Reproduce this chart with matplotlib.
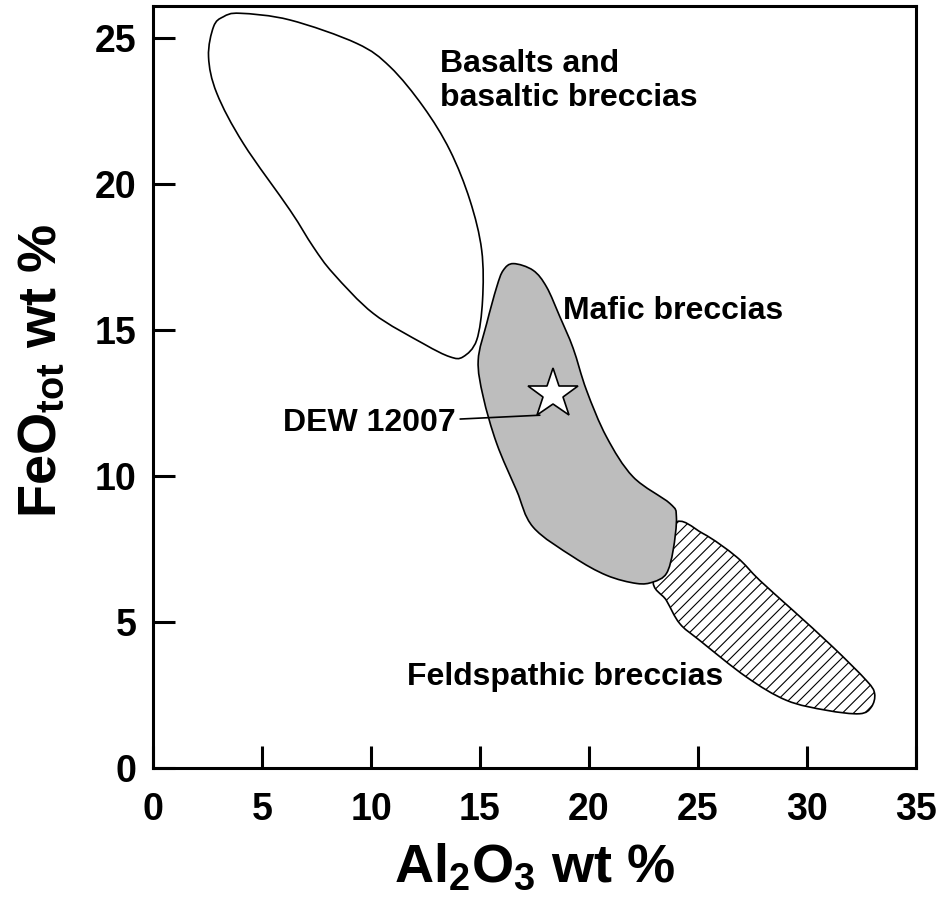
import numpy as np
import matplotlib
matplotlib.use("Agg")
import matplotlib.pyplot as plt
from matplotlib.patches import PathPatch
from matplotlib.path import Path

plt.rcParams['font.family'] = ['Liberation Sans', 'DejaVu Sans']
plt.rcParams['font.weight'] = 'bold'
plt.rcParams['mathtext.fontset'] = 'custom'
plt.rcParams['mathtext.rm'] = 'Liberation Sans:bold'
plt.rcParams['mathtext.bf'] = 'Liberation Sans:bold'
plt.rcParams['mathtext.default'] = 'bf'
plt.rcParams['hatch.color'] = '#666666'
plt.rcParams['hatch.linewidth'] = 0.8

# field outlines (Al2O3, FeO)
basalt_al = [3.99, 6.28, 9.34, 10.87, 12.40, 13.62, 14.54, 15.08, 15.12, 14.85,
             14.23, 13.62, 12.40, 10.11, 8.27, 7.35, 6.28, 4.14, 2.92, 2.54,
             2.77, 3.22]
basalt_fe = [25.85, 25.62, 24.82, 24.02, 22.65, 21.16, 19.45, 17.74, 16.03, 14.66,
             14.09, 14.09, 14.54, 15.57, 16.94, 17.85, 19.11, 21.39, 23.11, 24.36,
             25.39, 25.73]

mafic_al = [16.53, 17.44, 18.06, 18.67, 19.28, 19.89, 20.81, 22.03, 23.72, 24.02,
            23.87, 23.56, 22.95, 22.19, 20.81, 19.28, 17.44, 16.68, 15.77, 15.15,
            14.92, 15.31, 15.77, 16.07]
mafic_fe = [17.28, 17.05, 16.48, 15.46, 14.38, 12.95, 11.35, 9.98, 9.07, 8.61,
            7.47, 6.67, 6.38, 6.33, 6.61, 7.24, 8.26, 9.52, 11.12, 12.72,
            13.97, 15.23, 16.48, 17.05]

feld_al = [23.90, 25.24, 26.78, 27.84, 29.37, 31.21, 32.74, 33.12, 32.97, 32.43,
           30.90, 29.07, 27.23, 25.09, 24.17, 23.56, 22.95]
feld_fe = [8.38, 8.04, 7.24, 6.44, 5.41, 4.15, 3.01, 2.56, 2.10, 1.87,
           1.99, 2.33, 3.13, 4.38, 4.96, 5.75, 6.50]

dew_al = 18.37
dew_fe = 12.83

xticks = [0, 5, 10, 15, 20, 25, 30, 35]
yticks = [0, 5, 10, 15, 20, 25]


def smooth_outline(xs, ys):
    # closed bezier path through the traced points (catmull-rom style handles)
    p = np.column_stack([xs, ys])
    n = len(p)
    verts = [p[0]]
    codes = [Path.MOVETO]
    for i in range(n):
        p0, p1, p2, p3 = p[i - 1], p[i], p[(i + 1) % n], p[(i + 2) % n]
        verts += [p1 + (p2 - p0) / 6.0, p2 - (p3 - p1) / 6.0, p2]
        codes += [Path.CURVE4] * 3
    verts.append(p[0])
    codes.append(Path.CLOSEPOLY)
    return Path(verts, codes)


fig = plt.figure(figsize=(9.4, 9.18), dpi=100)
ax = fig.add_axes([0.163, 0.163, 0.811, 0.8305])

ax.add_patch(PathPatch(smooth_outline(feld_al, feld_fe), facecolor='white',
                       edgecolor='black', lw=1.2, hatch='///', zorder=2))
ax.add_patch(PathPatch(smooth_outline(mafic_al, mafic_fe), facecolor='#bdbdbd',
                       edgecolor='black', lw=1.2, zorder=3))
ax.add_patch(PathPatch(smooth_outline(basalt_al, basalt_fe), facecolor='none',
                       edgecolor='black', lw=1.2, zorder=3))

ax.plot([dew_al], [dew_fe], marker='*', ms=38, mfc='white', mec='black',
        mew=1.2, zorder=5)

ax.annotate('DEW 12007', xy=(17.75, 12.09), xytext=(13.9, 11.81),
            ha='right', va='center', fontsize=23, fontweight='bold',
            arrowprops=dict(arrowstyle='-', lw=1.2, color='black',
                            shrinkA=1, shrinkB=0), zorder=4)

ax.text(13.17, 23.53, 'Basalts and\nbasaltic breccias', fontsize=23,
        fontweight='bold', ha='left', va='center', linespacing=1.2)
ax.text(18.81, 15.65, 'Mafic breccias', fontsize=23, fontweight='bold',
        ha='left', va='center')
ax.text(11.65, 3.12, 'Feldspathic breccias', fontsize=23, fontweight='bold',
        ha='left', va='center')

ax.set_xlim(0, 35)
ax.set_ylim(0, 26.1)
ax.set_xticks(xticks)
ax.set_yticks(yticks)
ax.tick_params(direction='in', length=16, width=2.2, labelsize=27)
ax.tick_params(axis='x', pad=17)
ax.tick_params(axis='y', pad=12)
for lab in ax.get_xticklabels() + ax.get_yticklabels():
    lab.set_fontweight('bold')
for s in ax.spines.values():
    s.set_linewidth(2.2)

ax.set_xlabel(r'Al$_{2}$O$_{3}$ wt %', fontsize=39, fontweight='bold', labelpad=10)
ax.set_ylabel(r'FeO$_{tot}$ wt %', fontsize=39, fontweight='bold')
ax.yaxis.set_label_coords(-0.113, 0.522)

fig.savefig('out.png', dpi=100)
